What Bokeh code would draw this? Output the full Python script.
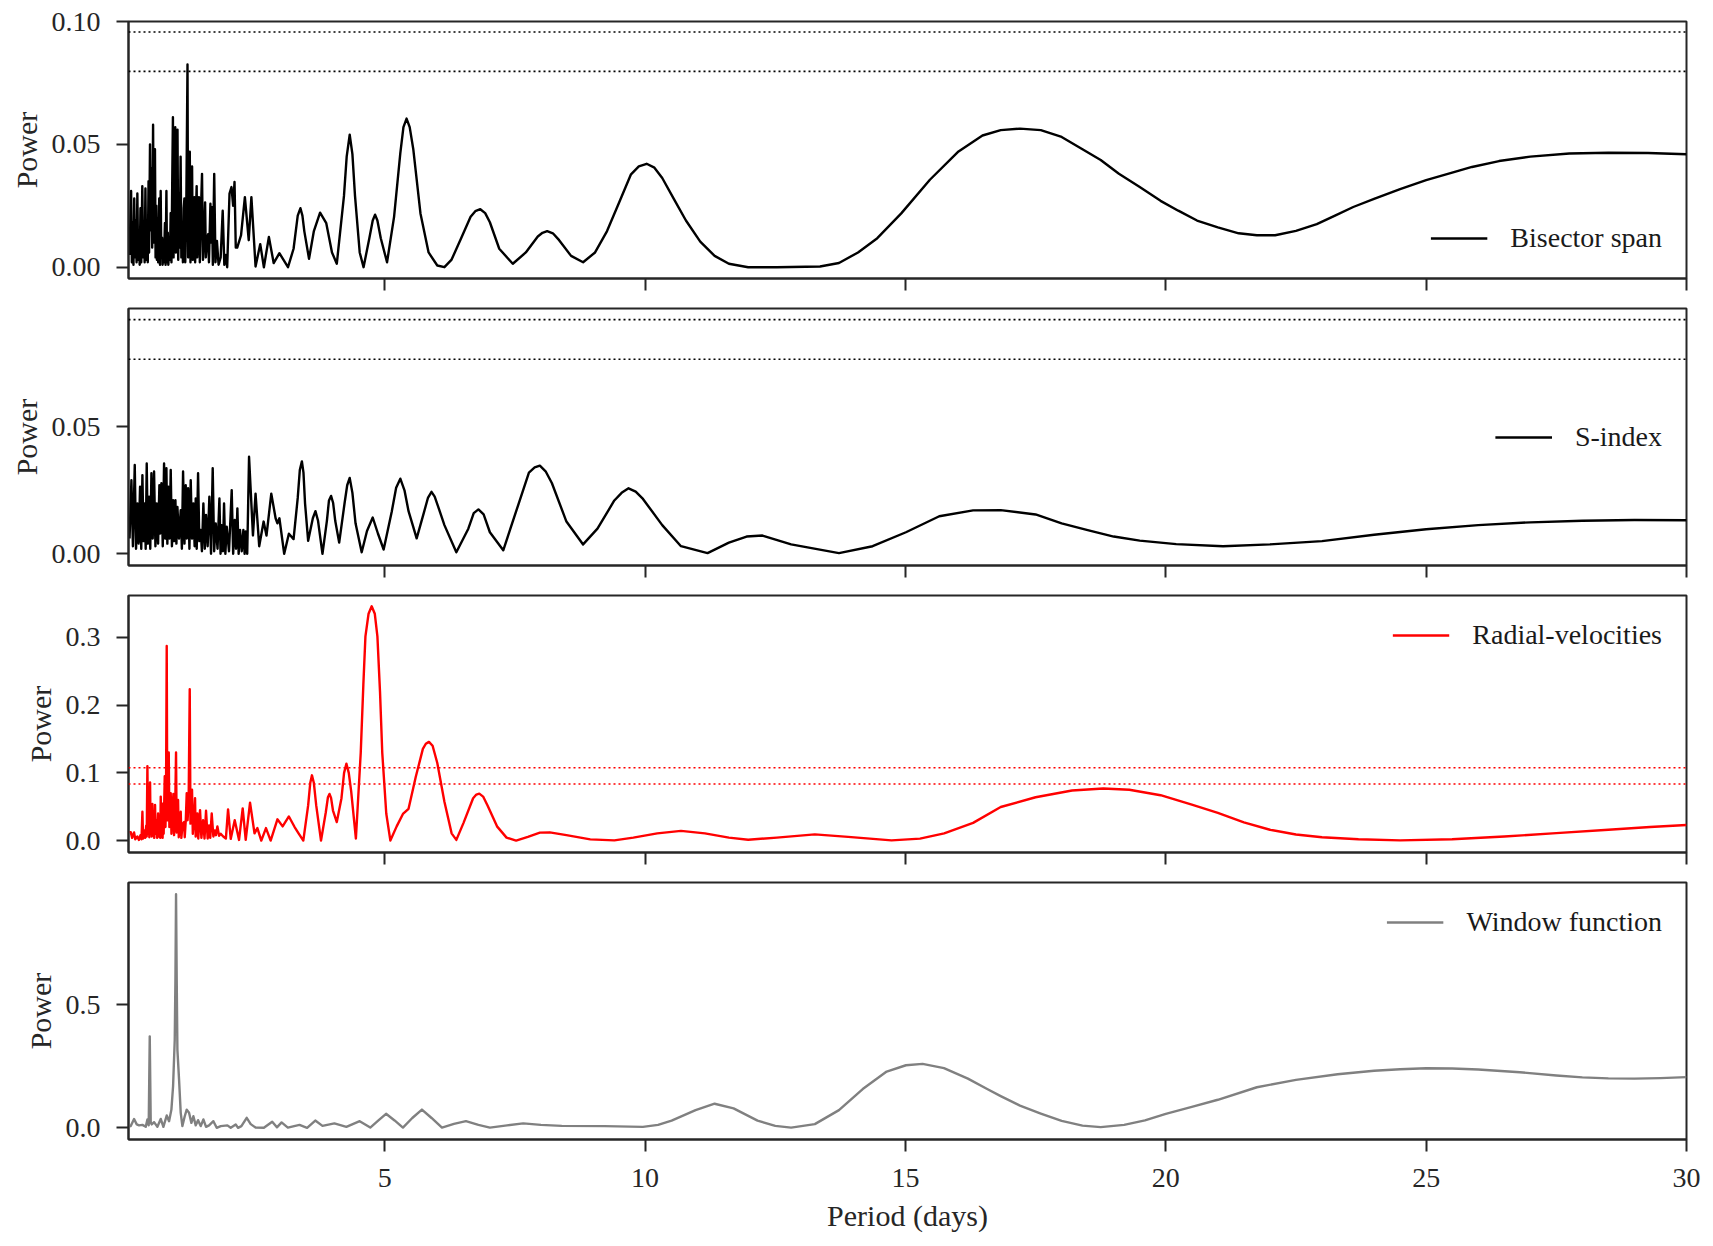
from bokeh.plotting import figure
from bokeh.models import Range1d, FixedTicker, Span, NumeralTickFormatter
from bokeh.layouts import column
from bokeh.embed import file_html
from bokeh.resources import INLINE

# ---------------- data ----------------
x_ticks = [5, 10, 15, 20, 25, 30]

bisector_pts = [
    (0.10, 0.005), (0.13, 0.031), (0.145, 0.002), (0.16, 0.018), (0.175, 0.001), (0.19, 0.028),
    (0.205, 0.004), (0.22, 0.019), (0.235, 0.002), (0.25, 0.030), (0.265, 0.003), (0.28, 0.012),
    (0.295, 0.001), (0.31, 0.024), (0.325, 0.002), (0.345, 0.033), (0.36, 0.004), (0.38, 0.014),
    (0.39, 0.002), (0.405, 0.032), (0.42, 0.003), (0.435, 0.012), (0.45, 0.002), (0.465, 0.035),
    (0.475, 0.006), (0.493, 0.050), (0.505, 0.015), (0.52, 0.040), (0.535, 0.008), (0.552, 0.058),
    (0.565, 0.010), (0.588, 0.048), (0.60, 0.004), (0.615, 0.025), (0.625, 0.003), (0.639, 0.020),
    (0.65, 0.002), (0.67, 0.028), (0.685, 0.001), (0.698, 0.031), (0.71, 0.004), (0.725, 0.012),
    (0.735, 0.001), (0.749, 0.008), (0.76, 0.002), (0.78, 0.018), (0.792, 0.001), (0.808, 0.031),
    (0.82, 0.002), (0.835, 0.014), (0.845, 0.001), (0.86, 0.007), (0.875, 0.003), (0.89, 0.022),
    (0.905, 0.002), (0.92, 0.035), (0.933, 0.061), (0.945, 0.004), (0.96, 0.030), (0.978, 0.057),
    (0.99, 0.006), (1.005, 0.040), (1.021, 0.056), (1.035, 0.003), (1.05, 0.030), (1.065, 0.008),
    (1.081, 0.045), (1.095, 0.004), (1.11, 0.018), (1.125, 0.002), (1.14, 0.024), (1.154, 0.028),
    (1.17, 0.002), (1.19, 0.025), (1.213, 0.0825), (1.225, 0.004), (1.24, 0.030), (1.257, 0.047),
    (1.27, 0.002), (1.285, 0.025), (1.301, 0.041), (1.315, 0.003), (1.33, 0.020), (1.345, 0.0285),
    (1.36, 0.002), (1.375, 0.022), (1.389, 0.033), (1.40, 0.004), (1.42, 0.018), (1.433, 0.0285),
    (1.45, 0.002), (1.47, 0.022), (1.492, 0.038), (1.51, 0.003), (1.53, 0.012), (1.551, 0.0264),
    (1.565, 0.004), (1.585, 0.010), (1.609, 0.0134), (1.625, 0.002), (1.653, 0.0258), (1.665, 0.010),
    (1.683, 0.0244), (1.70, 0.001), (1.726, 0.038), (1.75, 0.002), (1.778, 0.0107), (1.81, 0.001),
    (1.85, 0.004), (1.889, 0.023), (1.92, 0.001), (1.948, 0.005), (1.975, 0.0), (2.02, 0.030),
    (2.058, 0.0326), (2.09, 0.025), (2.116, 0.0347), (2.14, 0.008), (2.168, 0.008), (2.241, 0.013),
    (2.315, 0.0285), (2.389, 0.011), (2.44, 0.0285), (2.52, 0.0003), (2.61, 0.0094), (2.68, 0.0),
    (2.776, 0.0123), (2.868, 0.0017), (2.978, 0.0057), (3.143, 0.0), (3.25, 0.0075), (3.33, 0.021),
    (3.382, 0.024), (3.42, 0.021), (3.456, 0.0147), (3.547, 0.0034), (3.64, 0.0147), (3.759, 0.0222),
    (3.878, 0.0179), (3.988, 0.006), (4.08, 0.0014), (4.218, 0.029), (4.27, 0.045), (4.328, 0.0539),
    (4.38, 0.046), (4.43, 0.029), (4.52, 0.006), (4.594, 0.0), (4.705, 0.0118), (4.77, 0.019),
    (4.815, 0.0214), (4.86, 0.019), (4.925, 0.0118), (5.045, 0.002), (5.18, 0.0205), (5.3, 0.0464),
    (5.36, 0.057), (5.42, 0.0605), (5.48, 0.057), (5.55, 0.0479), (5.687, 0.0219), (5.843, 0.006),
    (6.01, 0.0007), (6.147, 0.0), (6.285, 0.0031), (6.468, 0.0118), (6.65, 0.0205), (6.74, 0.0228),
    (6.836, 0.0236), (6.93, 0.022), (7.02, 0.0183), (7.2, 0.0075), (7.46, 0.0014), (7.71, 0.006),
    (7.94, 0.0125), (8.03, 0.014), (8.12, 0.0147), (8.23, 0.0138), (8.35, 0.011), (8.58, 0.0046),
    (8.81, 0.002), (9.04, 0.006), (9.27, 0.0147), (9.5, 0.0262), (9.73, 0.0378), (9.88, 0.041),
    (10.03, 0.0421), (10.18, 0.0405), (10.33, 0.0363), (10.555, 0.0277), (10.785, 0.019),
    (11.06, 0.0104), (11.336, 0.0046), (11.61, 0.0014), (11.98, 0.0), (12.53, 0.0), (13.36, 0.0003),
    (13.724, 0.0017), (14.09, 0.006), (14.46, 0.0118), (14.92, 0.0219), (15.47, 0.0356),
    (16.02, 0.0471), (16.48, 0.0536), (16.83, 0.0558), (17.2, 0.0564), (17.6, 0.0558), (18.0, 0.053),
    (18.4, 0.048), (18.75, 0.0436), (19.1, 0.038), (19.5, 0.0326), (19.9, 0.027), (20.24, 0.023),
    (20.6, 0.019), (21.0, 0.0162), (21.4, 0.0138), (21.75, 0.013), (22.1, 0.013), (22.5, 0.0148),
    (22.9, 0.0175), (23.25, 0.021), (23.6, 0.0245), (24.0, 0.0278), (24.5, 0.0318), (25.0, 0.0354),
    (25.5, 0.0385), (25.88, 0.0408), (26.4, 0.0432), (27.0, 0.045), (27.75, 0.0463), (28.5, 0.0466),
    (29.26, 0.0465), (30.0, 0.046),
]

sindex_pts = [
    (0.10, 0.006), (0.136, 0.029), (0.165, 0.003), (0.20, 0.035), (0.225, 0.002), (0.251, 0.0198),
    (0.275, 0.004), (0.302, 0.0264), (0.325, 0.002), (0.347, 0.031), (0.37, 0.005), (0.392, 0.0198),
    (0.41, 0.002), (0.43, 0.0356), (0.452, 0.004), (0.475, 0.0225), (0.498, 0.002), (0.52, 0.0317),
    (0.545, 0.006), (0.571, 0.0324), (0.597, 0.003), (0.622, 0.0198), (0.648, 0.004), (0.673, 0.027),
    (0.69, 0.008), (0.712, 0.0278), (0.738, 0.003), (0.763, 0.0356), (0.785, 0.006), (0.808, 0.0337),
    (0.826, 0.004), (0.846, 0.0264), (0.868, 0.006), (0.891, 0.033), (0.914, 0.003), (0.936, 0.0211),
    (0.958, 0.005), (0.981, 0.0211), (1.0, 0.004), (1.019, 0.0185), (1.05, 0.006), (1.083, 0.0172),
    (1.105, 0.002), (1.128, 0.0324), (1.155, 0.004), (1.179, 0.027), (1.20, 0.006), (1.224, 0.0258),
    (1.25, 0.002), (1.275, 0.029), (1.30, 0.006), (1.326, 0.0198), (1.35, 0.003), (1.371, 0.0218),
    (1.39, 0.002), (1.416, 0.0317), (1.44, 0.005), (1.467, 0.0094), (1.49, 0.001), (1.518, 0.0198),
    (1.545, 0.002), (1.569, 0.0153), (1.60, 0.003), (1.633, 0.0225), (1.665, 0.0), (1.697, 0.0337),
    (1.725, 0.001), (1.755, 0.012), (1.79, 0.002), (1.826, 0.0218), (1.848, 0.0), (1.87, 0.0113),
    (1.893, 0.001), (1.915, 0.0198), (1.94, 0.0), (1.966, 0.0107), (2.01, 0.001), (2.062, 0.0251),
    (2.09, 0.0), (2.12, 0.0133), (2.145, 0.002), (2.171, 0.0179), (2.195, 0.0), (2.222, 0.0094),
    (2.255, 0.001), (2.286, 0.0094), (2.31, 0.0), (2.331, 0.0088), (2.36, 0.0), (2.395, 0.0382),
    (2.47, 0.0072), (2.52, 0.0237), (2.59, 0.003), (2.675, 0.0127), (2.73, 0.0072), (2.822, 0.0237),
    (2.905, 0.014), (2.94, 0.012), (2.978, 0.014), (3.07, 0.0), (3.16, 0.0079), (3.25, 0.0058),
    (3.33, 0.022), (3.37, 0.033), (3.41, 0.0364), (3.44, 0.032), (3.47, 0.020), (3.53, 0.0051),
    (3.62, 0.014), (3.67, 0.0168), (3.72, 0.013), (3.805, 0.0), (3.89, 0.013), (3.93, 0.021),
    (3.97, 0.0228), (4.01, 0.020), (4.05, 0.013), (4.126, 0.0044), (4.23, 0.020), (4.28, 0.027),
    (4.328, 0.0299), (4.38, 0.024), (4.44, 0.012), (4.558, 0.0006), (4.66, 0.009), (4.77, 0.0143),
    (4.87, 0.008), (4.98, 0.0017), (5.137, 0.0168), (5.22, 0.026), (5.3, 0.0296), (5.38, 0.025),
    (5.458, 0.0168), (5.614, 0.0061), (5.75, 0.016), (5.83, 0.022), (5.899, 0.0244), (5.96, 0.0225),
    (6.02, 0.019), (6.147, 0.0113), (6.376, 0.0006), (6.606, 0.0099), (6.71, 0.016), (6.8, 0.0175),
    (6.9, 0.0155), (7.02, 0.0085), (7.277, 0.0014), (7.57, 0.0196), (7.77, 0.032), (7.88, 0.034),
    (7.98, 0.0347), (8.09, 0.0325), (8.21, 0.0279), (8.49, 0.0127), (8.81, 0.0037), (9.086, 0.0099),
    (9.41, 0.021), (9.55, 0.024), (9.683, 0.0258), (9.82, 0.0245), (9.96, 0.0216), (10.33, 0.0113),
    (10.69, 0.003), (11.2, 0.0003), (11.61, 0.0044), (11.95, 0.0068), (12.255, 0.0072),
    (12.805, 0.0037), (13.724, 0.0003), (14.37, 0.003), (15.01, 0.0085), (15.65, 0.0148),
    (16.3, 0.0171), (16.83, 0.0172), (17.5, 0.0155), (18.0, 0.012), (18.5, 0.0093), (19.0, 0.0068),
    (19.5, 0.0052), (20.2, 0.0038), (21.1, 0.003), (22.0, 0.0037), (23.0, 0.005), (24.0, 0.0075),
    (25.0, 0.0097), (26.0, 0.0113), (27.0, 0.0124), (28.0, 0.013), (29.0, 0.0133), (30.0, 0.0132),
]

rv_pts = [
    (0.10, 0.012), (0.123, 0.0125), (0.15, 0.004), (0.187, 0.012), (0.21, 0.002), (0.25, 0.006),
    (0.28, 0.001), (0.31, 0.008), (0.33, 0.002), (0.347, 0.0425), (0.36, 0.003), (0.38, 0.015),
    (0.40, 0.004), (0.42, 0.022), (0.43, 0.006), (0.443, 0.110), (0.455, 0.010), (0.47, 0.030),
    (0.48, 0.005), (0.494, 0.086), (0.505, 0.012), (0.52, 0.030), (0.528, 0.006), (0.539, 0.054),
    (0.55, 0.008), (0.565, 0.035), (0.575, 0.004), (0.59, 0.0525), (0.60, 0.010), (0.62, 0.030),
    (0.63, 0.004), (0.648, 0.040), (0.66, 0.006), (0.68, 0.025), (0.69, 0.004), (0.699, 0.065),
    (0.71, 0.008), (0.725, 0.030), (0.735, 0.004), (0.744, 0.055), (0.755, 0.010), (0.776, 0.095),
    (0.79, 0.020), (0.80, 0.060), (0.814, 0.2875), (0.825, 0.030), (0.838, 0.070), (0.853, 0.130),
    (0.865, 0.020), (0.878, 0.040), (0.891, 0.070), (0.905, 0.010), (0.92, 0.035), (0.942, 0.069),
    (0.955, 0.008), (0.975, 0.040), (0.993, 0.130), (1.005, 0.012), (1.02, 0.030), (1.032, 0.060),
    (1.045, 0.005), (1.06, 0.020), (1.083, 0.0425), (1.095, 0.004), (1.12, 0.025), (1.147, 0.0275),
    (1.16, 0.005), (1.18, 0.030), (1.198, 0.070), (1.215, 0.030), (1.235, 0.060), (1.256, 0.2235),
    (1.27, 0.025), (1.285, 0.040), (1.30, 0.075), (1.315, 0.010), (1.34, 0.035), (1.358, 0.0625),
    (1.37, 0.006), (1.39, 0.020), (1.403, 0.040), (1.42, 0.003), (1.454, 0.045), (1.48, 0.004),
    (1.512, 0.030), (1.54, 0.003), (1.569, 0.044), (1.60, 0.003), (1.627, 0.0225), (1.65, 0.004),
    (1.678, 0.040), (1.71, 0.006), (1.736, 0.015), (1.76, 0.008), (1.787, 0.021), (1.82, 0.007),
    (1.851, 0.010), (1.90, 0.006), (1.95, 0.003), (1.992, 0.046), (2.043, 0.0025), (2.12, 0.030),
    (2.203, 0.001), (2.273, 0.0475), (2.331, 0.001), (2.414, 0.056), (2.50, 0.0107), (2.555, 0.0185),
    (2.63, 0.0), (2.72, 0.0185), (2.81, 0.0), (2.94, 0.0314), (3.04, 0.021), (3.16, 0.0356),
    (3.27, 0.020), (3.346, 0.0107), (3.437, 0.0), (3.53, 0.052), (3.57, 0.085), (3.603, 0.0964),
    (3.64, 0.085), (3.685, 0.052), (3.777, 0.0), (3.869, 0.0418), (3.91, 0.064), (3.94, 0.0689),
    (3.97, 0.063), (4.007, 0.0444), (4.08, 0.0273), (4.17, 0.0626), (4.22, 0.100), (4.264, 0.1136),
    (4.31, 0.100), (4.356, 0.073), (4.447, 0.003), (4.54, 0.130), (4.59, 0.230), (4.63, 0.3017),
    (4.69, 0.335), (4.75, 0.346), (4.81, 0.335), (4.86, 0.3017), (4.91, 0.220), (4.953, 0.130),
    (5.03, 0.040), (5.109, 0.0), (5.23, 0.021), (5.35, 0.0393), (5.458, 0.047), (5.596, 0.0938),
    (5.733, 0.1354), (5.79, 0.143), (5.85, 0.1458), (5.92, 0.140), (6.01, 0.1146), (6.147, 0.0574),
    (6.285, 0.0107), (6.376, 0.001), (6.514, 0.0262), (6.698, 0.0626), (6.76, 0.068), (6.817, 0.0694),
    (6.89, 0.065), (6.973, 0.0522), (7.157, 0.021), (7.34, 0.0044), (7.524, 0.0), (7.75, 0.0055),
    (7.98, 0.0117), (8.17, 0.0122), (8.49, 0.0081), (8.948, 0.0018), (9.41, 0.0003), (9.775, 0.0044),
    (10.234, 0.0107), (10.69, 0.0143), (11.15, 0.0107), (11.61, 0.0044), (11.98, 0.0013),
    (12.53, 0.0044), (13.26, 0.0091), (13.9, 0.0055), (14.733, 0.0003), (15.28, 0.0029),
    (15.744, 0.0107), (16.3, 0.0262), (16.83, 0.0496), (17.5, 0.064), (18.2, 0.074), (18.8, 0.077),
    (19.3, 0.075), (19.9, 0.067), (20.5, 0.053), (21.0, 0.041), (21.5, 0.027), (22.0, 0.016),
    (22.5, 0.009), (23.0, 0.005), (23.7, 0.002), (24.5, 0.0003), (25.5, 0.002), (26.5, 0.006),
    (27.5, 0.011), (28.5, 0.016), (29.3, 0.020), (30.0, 0.023),
]

window_pts = [
    (0.10, 0.006), (0.123, 0.007), (0.187, 0.036), (0.238, 0.014), (0.283, 0.010), (0.347, 0.012),
    (0.411, 0.004), (0.443, 0.034), (0.468, 0.010), (0.488, 0.372), (0.507, 0.020), (0.526, 0.014),
    (0.571, 0.023), (0.635, 0.004), (0.699, 0.036), (0.75, 0.004), (0.814, 0.050), (0.859, 0.027),
    (0.904, 0.074), (0.936, 0.169), (0.968, 0.358), (0.981, 0.600), (0.993, 0.950), (1.006, 0.600),
    (1.019, 0.318), (1.051, 0.196), (1.083, 0.061), (1.115, 0.007), (1.16, 0.047), (1.198, 0.074),
    (1.243, 0.061), (1.288, 0.020), (1.326, 0.047), (1.371, 0.010), (1.416, 0.031), (1.467, 0.007),
    (1.518, 0.034), (1.569, 0.004), (1.627, 0.010), (1.71, 0.027), (1.774, 0.0), (1.851, 0.007),
    (1.979, 0.010), (2.043, 0.0), (2.139, 0.0135), (2.184, 0.0), (2.248, 0.007), (2.35, 0.0405),
    (2.427, 0.015), (2.52, 0.001), (2.68, 0.0), (2.84, 0.025), (2.93, 0.002), (3.02, 0.022),
    (3.14, 0.001), (3.364, 0.012), (3.51, 0.0), (3.667, 0.0295), (3.805, 0.008), (4.034, 0.018),
    (4.264, 0.004), (4.52, 0.027), (4.723, 0.001), (4.88, 0.030), (5.026, 0.057), (5.19, 0.030),
    (5.35, 0.001), (5.53, 0.040), (5.715, 0.074), (5.9, 0.040), (6.1, 0.001), (6.33, 0.016),
    (6.56, 0.027), (6.8, 0.012), (7.02, 0.001), (7.35, 0.010), (7.66, 0.018), (8.0, 0.012),
    (8.4, 0.008), (9.22, 0.007), (9.958, 0.004), (10.25, 0.012), (10.51, 0.0295), (10.97, 0.072),
    (11.336, 0.098), (11.7, 0.0793), (12.16, 0.0295), (12.5, 0.008), (12.805, 0.001), (13.26, 0.015),
    (13.724, 0.072), (14.18, 0.1576), (14.64, 0.2288), (15.01, 0.2544), (15.33, 0.260), (15.74, 0.243),
    (16.2, 0.200), (16.57, 0.1576), (16.83, 0.129), (17.2, 0.090), (17.6, 0.058), (18.0, 0.028),
    (18.4, 0.009), (18.75, 0.003), (19.2, 0.012), (19.6, 0.030), (20.0, 0.057), (20.5, 0.085),
    (21.0, 0.114), (21.75, 0.165), (22.5, 0.195), (23.3, 0.218), (24.0, 0.232), (24.5, 0.238),
    (25.0, 0.242), (25.5, 0.241), (26.0, 0.237), (26.8, 0.226), (27.5, 0.213), (28.0, 0.205),
    (28.5, 0.201), (29.0, 0.200), (29.5, 0.202), (30.0, 0.206),
]

bisector_levels = [0.0957, 0.0797]
sindex_levels = [0.0922, 0.0766]
rv_levels = [0.1075, 0.0835]

panels = [
    dict(pts=bisector_pts, name="Bisector span", color="#000000", levels=bisector_levels,
         yr=(-0.0046, 0.100), yt=[0.0, 0.05, 0.10], fmt="0.00", loc="bottom_right"),
    dict(pts=sindex_pts, name="S-index", color="#000000", levels=sindex_levels,
         yr=(-0.0046, 0.0966), yt=[0.0, 0.05], fmt="0.00", loc="right"),
    dict(pts=rv_pts, name="Radial-velocities", color="#ff0000", levels=rv_levels,
         yr=(-0.0176, 0.362), yt=[0.0, 0.1, 0.2, 0.3], fmt="0.0", loc="top_right"),
    dict(pts=window_pts, name="Window function", color="#808080", levels=[],
         yr=(-0.0475, 0.9975), yt=[0.0, 0.5], fmt="0.0", loc="top_right"),
]

# ---------------- styling ----------------
FONT = "Liberation Serif"
INK = "#262626"
x_range = Range1d(0.08, 30)

figs = []
for i, cfg in enumerate(panels):
    last = i == len(panels) - 1
    top = 21 if i == 0 else 8
    bottom = 100 if last else 22
    p = figure(frame_width=1558, frame_height=257, x_range=x_range,
               y_range=Range1d(*cfg["yr"]), output_backend="svg", toolbar_location=None,
               min_border_left=128, min_border_right=16, min_border_top=top,
               min_border_bottom=bottom)
    p.grid.visible = False
    p.outline_line_color = INK
    p.outline_line_width = 2
    p.outline_line_alpha = 1.0

    pts = sorted(cfg["pts"])
    px = [a for a, _ in pts]
    py = [b for _, b in pts]
    p.line(px, py, line_color=cfg["color"], line_width=2.4, line_join="round",
           legend_label=cfg["name"])
    for lv in cfg["levels"]:
        p.add_layout(Span(location=lv, dimension="width", line_color=cfg["color"],
                          line_width=1.6, line_dash="2 3"))

    for ax in (p.xaxis[0], p.yaxis[0]):
        ax.axis_line_color = INK
        ax.axis_line_width = 2
        ax.major_tick_line_color = INK
        ax.major_tick_line_width = 2
        ax.major_tick_out = 12
        ax.major_tick_in = 0
        ax.minor_tick_out = 0
        ax.minor_tick_in = 0
        ax.major_label_text_font = FONT
        ax.major_label_text_font_size = "28px"
        ax.major_label_text_color = INK
        ax.axis_label_text_font = FONT
        ax.axis_label_text_font_size = "30px"
        ax.axis_label_text_font_style = "normal"
        ax.axis_label_text_color = INK

    p.xaxis.ticker = FixedTicker(ticks=x_ticks, minor_ticks=[])
    p.yaxis.ticker = FixedTicker(ticks=cfg["yt"], minor_ticks=[])
    p.yaxis.formatter = NumeralTickFormatter(format=cfg["fmt"])
    p.yaxis.axis_label = "Power"
    p.yaxis.major_label_standoff = 16
    p.yaxis.axis_label_standoff = 6
    if last:
        p.xaxis.axis_label = "Period (days)"
        p.xaxis.major_label_standoff = 17
        p.xaxis.axis_label_standoff = 9
    else:
        p.xaxis.major_label_overrides = {t: "" for t in x_ticks}
        p.xaxis.major_label_standoff = 0

    lg = p.legend[0]
    lg.location = cfg["loc"]
    lg.label_text_font = FONT
    lg.label_text_font_size = "28px"
    lg.label_text_color = "#1a1a1a"
    lg.glyph_width = 57
    lg.glyph_height = 28
    lg.label_height = 28
    lg.label_standoff = 23
    lg.padding = 10
    lg.margin = 14
    lg.spacing = 0
    lg.border_line_alpha = 0
    lg.background_fill_alpha = 0
    figs.append(p)

layout = column(*figs, spacing=0)
open("out.html", "w").write(file_html(layout, INLINE))
